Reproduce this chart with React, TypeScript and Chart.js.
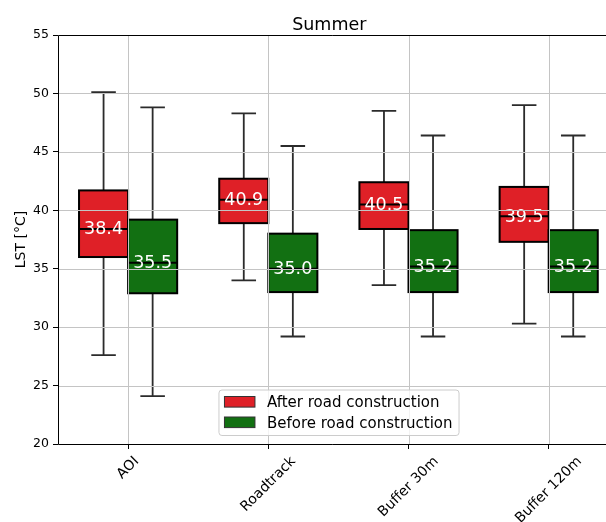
import React, { useEffect, useRef } from "react";
import { Chart, registerables } from "chart.js";

Chart.register(...registerables);

const categories = ["AOI", "Roadtrack", "Buffer 30m", "Buffer 120m"];
const seriesNames = ["After road construction", "Before road construction"];

// Five-number summaries of LST per category
const afterMin = [27.6, 34.0, 33.6, 30.3];
const afterQ1 = [36.0, 38.9, 38.4, 37.3];
const afterMedian = [38.4, 40.9, 40.5, 39.5];
const afterQ3 = [41.7, 42.7, 42.4, 42.0];
const afterMax = [50.1, 48.3, 48.5, 49.0];

const beforeMin = [24.1, 29.2, 29.2, 29.2];
const beforeQ1 = [32.9, 33.0, 33.0, 33.0];
const beforeMedian = [35.5, 35.0, 35.2, 35.2];
const beforeQ3 = [39.2, 38.0, 38.3, 38.3];
const beforeMax = [48.8, 45.5, 46.4, 46.4];

const yTickValues = [20, 25, 30, 35, 40, 45, 50, 55];

const RED = "#df2027";
const GREEN = "#127012";
const FONT = "'DejaVu Sans', sans-serif";

type Summary = { min: number[]; q1: number[]; med: number[]; q3: number[]; max: number[] };
const summaries: Summary[] = [
  { min: afterMin, q1: afterQ1, med: afterMedian, q3: afterQ3, max: afterMax },
  { min: beforeMin, q1: beforeQ1, med: beforeMedian, q3: beforeQ3, max: beforeMax },
];
const colors = [RED, GREEN];

const boxPlotPlugin = {
  id: "boxPlotDecor",
  afterDatasetsDraw(chart: any) {
    const ctx: CanvasRenderingContext2D = chart.ctx;
    const xs = chart.scales.x;
    const ys = chart.scales.y;
    const area = chart.chartArea;

    ctx.save();
    // whiskers, box outlines, medians and median labels
    summaries.forEach((s, d) => {
      const meta = chart.getDatasetMeta(d);
      meta.data.forEach((bar: any, i: number) => {
        const p = bar.getProps(["x", "width"], true);
        const cx = p.x;
        const w = p.width;
        const yQ1 = ys.getPixelForValue(s.q1[i]);
        const yQ3 = ys.getPixelForValue(s.q3[i]);
        const yMin = ys.getPixelForValue(s.min[i]);
        const yMax = ys.getPixelForValue(s.max[i]);
        const yMed = ys.getPixelForValue(s.med[i]);

        ctx.strokeStyle = "#2b2b2b";
        ctx.lineWidth = 1.8;
        ctx.beginPath();
        ctx.moveTo(cx, yQ3);
        ctx.lineTo(cx, yMax);
        ctx.moveTo(cx, yQ1);
        ctx.lineTo(cx, yMin);
        ctx.moveTo(cx - w / 4, yMax);
        ctx.lineTo(cx + w / 4, yMax);
        ctx.moveTo(cx - w / 4, yMin);
        ctx.lineTo(cx + w / 4, yMin);
        ctx.stroke();

        ctx.strokeStyle = "#000";
        ctx.lineWidth = 2;
        ctx.strokeRect(cx - w / 2, yQ3, w, yQ1 - yQ3);
        ctx.beginPath();
        ctx.moveTo(cx - w / 2, yMed);
        ctx.lineTo(cx + w / 2, yMed);
        ctx.stroke();

        const fs = 17.5;
        ctx.font = `${fs}px ${FONT}`;
        ctx.fillStyle = "#fff";
        ctx.textAlign = "center";
        ctx.textBaseline = "alphabetic";
        ctx.fillText(s.med[i].toFixed(1), cx, yMed + fs * 0.365 - 1);
      });
    });

    // grid lines above the boxes
    ctx.strokeStyle = "#c4c4c4";
    ctx.lineWidth = 1;
    ctx.beginPath();
    yTickValues.forEach((v) => {
      const y = Math.round(ys.getPixelForValue(v)) + 0.5;
      ctx.moveTo(area.left, y);
      ctx.lineTo(area.right, y);
    });
    xs.ticks.forEach((t: any) => {
      const x = Math.round(xs.getPixelForValue(t.value)) + 0.5;
      ctx.moveTo(x, area.top);
      ctx.lineTo(x, area.bottom);
    });
    ctx.stroke();

    // spines
    ctx.strokeStyle = "#000";
    ctx.lineWidth = 1;
    ctx.beginPath();
    const top = Math.round(area.top) + 0.5;
    const bottom = Math.round(area.bottom) + 0.5;
    const left = Math.round(area.left) + 0.5;
    ctx.moveTo(left, top);
    ctx.lineTo(area.right, top);
    ctx.moveTo(left, top);
    ctx.lineTo(left, bottom);
    ctx.moveTo(left, bottom);
    ctx.lineTo(area.right, bottom);
    ctx.stroke();

    // rotated category labels
    const tfs = 14;
    ctx.font = `${tfs}px ${FONT}`;
    ctx.fillStyle = "#000";
    ctx.textAlign = "center";
    ctx.textBaseline = "middle";
    xs.ticks.forEach((t: any, i: number) => {
      const label = categories[i];
      const px = xs.getPixelForValue(t.value);
      const tw = ctx.measureText(label).width;
      const th = tfs * 1.17;
      const side = (tw + th) * Math.SQRT1_2;
      const cy = area.bottom + 9.5 + side / 2;
      ctx.save();
      ctx.translate(px, cy);
      ctx.rotate(-Math.PI / 4);
      ctx.fillText(label, 0, 0);
      ctx.restore();
    });

    // title
    ctx.font = `17.5px ${FONT}`;
    ctx.textAlign = "center";
    ctx.textBaseline = "alphabetic";
    ctx.fillText("Summer", 329.3, 30);

    // y axis title
    ctx.save();
    ctx.font = `14px ${FONT}`;
    ctx.translate(21, (area.top + area.bottom) / 2);
    ctx.rotate(-Math.PI / 2);
    ctx.textBaseline = "middle";
    ctx.fillText("LST [°C]", 0, 0);
    ctx.restore();

    // legend
    const lfs = 15;
    ctx.font = `${lfs}px ${FONT}`;
    const textW = Math.max(...seriesNames.map((n) => ctx.measureText(n).width));
    const handleW = 30.5;
    const pad = 6;
    const frameW = pad + handleW + 12 + textW + pad;
    const frameH = 45.5;
    const cxArea = (area.left + 619) / 2;
    const fx = cxArea - frameW / 2;
    const fy = area.bottom - 9 - frameH;
    ctx.beginPath();
    ctx.roundRect(fx + 0.5, fy + 0.5, frameW, frameH, 3);
    ctx.fillStyle = "rgba(255,255,255,0.8)";
    ctx.fill();
    ctx.strokeStyle = "#cccccc";
    ctx.lineWidth = 1;
    ctx.stroke();
    seriesNames.forEach((name, k) => {
      const rowC = fy + 12.3 + k * 20.5;
      ctx.fillStyle = colors[k];
      ctx.fillRect(fx + pad, rowC - 5.3, handleW, 10.6);
      ctx.strokeStyle = "#333";
      ctx.lineWidth = 1;
      ctx.strokeRect(fx + pad, rowC - 5.3, handleW, 10.6);
      ctx.fillStyle = "#000";
      ctx.textAlign = "left";
      ctx.textBaseline = "alphabetic";
      ctx.fillText(name, fx + pad + handleW + 12, rowC + lfs * 0.365);
    });
    ctx.restore();
  },
};

export default function App() {
  const ref = useRef<HTMLCanvasElement | null>(null);

  useEffect(() => {
    if (!ref.current) return;
    const datasets = summaries.map((s, d) => ({
      label: seriesNames[d],
      data: categories.map((_, i) => ({ x: i + 1, y: [s.q1[i], s.q3[i]] })),
      backgroundColor: colors[d],
      borderWidth: 0,
      categoryPercentage: 0.7,
      barPercentage: 1,
    }));

    const chart = new Chart(ref.current, {
      type: "bar",
      data: { datasets } as any,
      options: {
        responsive: false,
        devicePixelRatio: 1,
        animation: false,
        layout: { padding: { top: 35, left: 0, right: 0, bottom: 0 } },
        plugins: {
          legend: { display: false },
          tooltip: { enabled: false },
          title: { display: false },
        },
        scales: {
          x: {
            type: "linear",
            min: 0.5,
            max: 0.5 + 548 / 140.2,
            offset: false,
            afterBuildTicks: (scale: any) => {
              scale.ticks = categories.map((_, i) => ({ value: i + 1 }));
            },
            afterFit: (scale: any) => {
              scale.height = 78;
            },
            ticks: { display: false },
            grid: {
              display: true,
              offset: false,
              drawOnChartArea: false,
              drawTicks: true,
              tickLength: 5,
              tickColor: "#000",
              tickWidth: 1,
              color: "rgba(0,0,0,0)",
            },
            border: { display: false },
          },
          y: {
            type: "linear",
            min: 20,
            max: 55,
            afterBuildTicks: (scale: any) => {
              scale.ticks = yTickValues.map((v) => ({ value: v }));
            },
            afterFit: (scale: any) => {
              scale.width = 58;
            },
            ticks: {
              padding: 4,
              color: "#000",
              font: { family: "'DejaVu Sans', sans-serif", size: 12.5 },
            },
            grid: {
              display: true,
              drawOnChartArea: false,
              drawTicks: true,
              tickLength: 5,
              tickColor: "#000",
              tickWidth: 1,
              color: "rgba(0,0,0,0)",
            },
            border: { display: false },
          },
        },
      } as any,
      plugins: [boxPlotPlugin],
    });
    return () => chart.destroy();
  }, []);

  return (
    <div style={{ position: "fixed", left: 0, top: 0, width: 606, height: 522, background: "#fff" }}>
      <canvas ref={ref} width={606} height={522} style={{ display: "block", width: 606, height: 522 }} />
    </div>
  );
}
